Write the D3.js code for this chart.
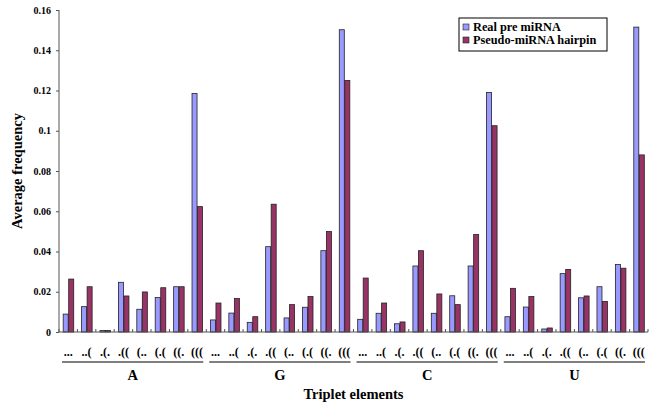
<!DOCTYPE html>
<html><head><meta charset="utf-8">
<script src="https://cdn.jsdelivr.net/npm/d3@7/dist/d3.min.js"></script>
<style>body{margin:0;background:#fff}svg{display:block}</style>
</head><body><div id="chart"></div>
<script>
const groups = ["A", "G", "C", "U"];
const triplets = ["...", "..(", ".(.", ".((", "(..", "(.(", "((.", "((("];
const realValues = [
  0.0089, 0.0126, 0.0007, 0.0247, 0.0113, 0.0171, 0.0225, 0.1185,
  0.0060, 0.0094, 0.0048, 0.0424, 0.0070, 0.0123, 0.0404, 0.1502,
  0.0063, 0.0093, 0.0041, 0.0328, 0.0093, 0.0180, 0.0328, 0.1190,
  0.0076, 0.0124, 0.0015, 0.0290, 0.0170, 0.0225, 0.0335, 0.1515
];
const pseudoValues = [
  0.0263, 0.0225, 0.0007, 0.0179, 0.0199, 0.0220, 0.0225, 0.0623,
  0.0144, 0.0166, 0.0076, 0.0635, 0.0136, 0.0176, 0.0499, 0.1250,
  0.0268, 0.0144, 0.0050, 0.0404, 0.0189, 0.0136, 0.0484, 0.1025,
  0.0217, 0.0176, 0.0020, 0.0311, 0.0179, 0.0152, 0.0317, 0.0880
];
const seriesNames = ["Real pre miRNA", "Pseudo-miRNA hairpin"];
const yTicks = [0, 0.02, 0.04, 0.06, 0.08, 0.1, 0.12, 0.14, 0.16];

const W = 652, H = 404;
const L = 59, R = 648, T = 10, B = 332;
const font = "'Liberation Serif','Times New Roman',serif";
const colors = ["#9999FF", "#993366"];

const svg = d3.select("#chart").append("svg").attr("width", W).attr("height", H);

const cats = [];
groups.forEach(g => triplets.forEach(t => cats.push(g + "|" + t)));
const data = cats.map((c, i) => ({key: c, g: c.split("|")[0], t: c.split("|")[1], v: [realValues[i], pseudoValues[i]]}));

const x = d3.scaleBand().domain(cats).range([L, R]).paddingInner(0).paddingOuter(0);
const xs = d3.scaleBand().domain([0, 1]).range([x.bandwidth()*0.2, x.bandwidth()*0.8]).padding(0);
const y = d3.scaleLinear().domain([0, 0.16]).range([B, T]);

// bars
const cg = svg.append("g").selectAll("g").data(data).join("g")
  .attr("transform", d => `translate(${x(d.key)},0)`);
cg.selectAll("rect").data(d => d.v.map((v, i) => ({v, i}))).join("rect")
  .attr("x", d => xs(d.i) + 0.5)
  .attr("width", xs.bandwidth() - 0.5)
  .attr("y", d => y(d.v))
  .attr("height", d => B - y(d.v))
  .attr("fill", d => colors[d.i])
  .attr("stroke", "#222")
  .attr("stroke-width", 0.8);

// y axis
const yAxis = d3.axisLeft(y).tickValues(yTicks).tickSize(3).tickFormat(d => d === 0 ? "0" : String(+d.toFixed(2)));
const ya = svg.append("g").attr("transform", `translate(${L},0)`).call(yAxis);
ya.select(".domain").attr("stroke", "#555").attr("d", `M0,${T}V${B}`);
ya.selectAll(".tick line").attr("stroke", "#555");
ya.selectAll("text").attr("font-family", font).attr("font-weight", "bold").attr("font-size", 10).attr("fill", "#000").attr("dx", -2);

// x axis line and inward ticks at category boundaries
svg.append("line").attr("x1", L).attr("x2", R).attr("y1", B).attr("y2", B).attr("stroke", "#555");
const bounds = cats.map(c => x(c) + x.bandwidth()).concat([L]);
svg.append("g").selectAll("line").data(bounds).join("line")
  .attr("x1", d => d).attr("x2", d => d).attr("y1", B).attr("y2", B - 3).attr("stroke", "#555");

// triplet labels
svg.append("g").selectAll("text").data(data).join("text")
  .attr("x", d => x(d.key) + x.bandwidth()/2)
  .attr("y", 356)
  .attr("text-anchor", "middle")
  .attr("font-family", font).attr("font-weight", "bold").attr("font-size", 12)
  .text(d => d.t);

// group underline and labels
const gW = x.bandwidth() * triplets.length;
groups.forEach((g, gi) => {
  const x0 = L + gi * gW;
  svg.append("line").attr("x1", x0 + 3).attr("x2", x0 + gW - 3).attr("y1", 362).attr("y2", 362).attr("stroke", "#000").attr("stroke-width", 1);
  svg.append("text").attr("x", x0 + gW/2).attr("y", 380).attr("text-anchor", "middle")
    .attr("font-family", font).attr("font-weight", "bold").attr("font-size", 14.5).text(g);
});

// axis titles
svg.append("text").attr("x", (L + R)/2).attr("y", 399).attr("text-anchor", "middle")
  .attr("font-family", font).attr("font-weight", "bold").attr("font-size", 14.5).text("Triplet elements");
svg.append("text").attr("transform", `translate(22,${(T + B)/2}) rotate(-90)`).attr("text-anchor", "middle")
  .attr("font-family", font).attr("font-weight", "bold").attr("font-size", 14.5).text("Average frequency");

// legend
const lg = svg.append("g").attr("transform", "translate(459,18)");
lg.append("rect").attr("width", 148).attr("height", 33).attr("fill", "#fff").attr("stroke", "#000").attr("stroke-width", 1);
seriesNames.forEach((s, i) => {
  lg.append("rect").attr("x", 4).attr("y", 6 + i*13).attr("width", 6).attr("height", 6)
    .attr("fill", colors[i]).attr("stroke", "#222").attr("stroke-width", 0.6);
  lg.append("text").attr("x", 14).attr("y", 12.5 + i*13)
    .attr("font-family", font).attr("font-weight", "bold").attr("font-size", 12.3).text(s);
});
</script></body></html>
